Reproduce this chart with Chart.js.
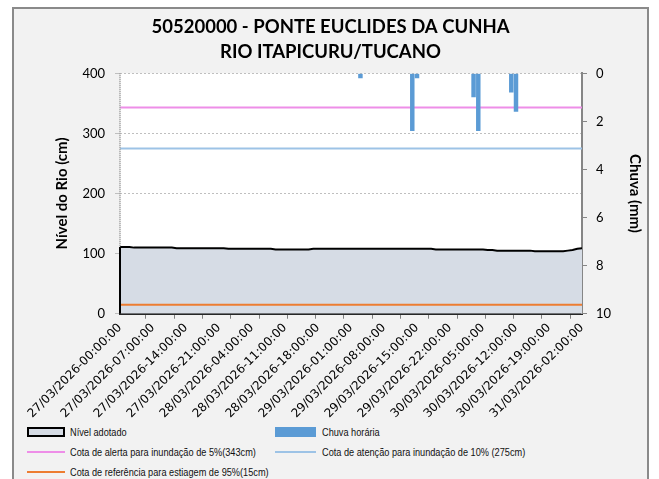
<!DOCTYPE html>
<html>
<head>
<meta charset="utf-8">
<script src="https://cdn.jsdelivr.net/npm/chart.js@4/dist/chart.umd.min.js"></script>
<style>
  body { margin: 0; background: #fff; }
  #frame { position: absolute; left: 12px; top: 7px; width: 633px; height: 480px;
           border: 2px solid #8a8a8a; background: #f2f2f2; overflow: hidden; }
  #frame canvas { position: absolute; left: 0; top: 0; }
  .leg { position: absolute; font: 11px "Liberation Sans", Arial, sans-serif;
         color: #111; line-height: 14px; white-space: nowrap;
         transform: scaleX(0.835); transform-origin: 0 0; }
  .sym { position: absolute; box-sizing: border-box; }
</style>
</head>
<body>
<div id="frame">
  <canvas id="grafico" width="633" height="415"></canvas>

  <div class="sym" style="left:13px;top:418px;width:38px;height:10px;background:#d6dce5;border:2px solid #000"></div>
  <div class="leg" style="left:56px;top:416px">Nível adotado</div>
  <div class="sym" style="left:261px;top:418px;width:41px;height:10px;background:#5b9bd5"></div>
  <div class="leg" style="left:308px;top:416px">Chuva horária</div>

  <div class="sym" style="left:13px;top:442px;width:38px;height:2px;background:#ee8ee8"></div>
  <div class="leg" style="left:56px;top:436px">Cota de alerta para inundação de 5%(343cm)</div>
  <div class="sym" style="left:261px;top:442px;width:41px;height:2px;background:#9dc3e6"></div>
  <div class="leg" style="left:308px;top:436px">Cota de atenção para inundação de 10% (275cm)</div>

  <div class="sym" style="left:13px;top:462px;width:38px;height:2px;background:#ed7d31"></div>
  <div class="leg" style="left:56px;top:456px">Cota de referência para estiagem de 95%(15cm)</div>
</div>

<script>
// horas de 27/03/2026 00:00 ate 31/03/2026 02:00
const horas = [];
for (let h = 0; h <= 98; h++) {
  const dia = 27 + Math.floor(h / 24);
  const hh = String(h % 24).padStart(2, '0');
  horas.push(dia + '/03/2026-' + hh + ':00:00');
}

const rotulos = [
  '27/03/2026-00:00:00', '27/03/2026-07:00:00', '27/03/2026-14:00:00', '27/03/2026-21:00:00',
  '28/03/2026-04:00:00', '28/03/2026-11:00:00', '28/03/2026-18:00:00', '29/03/2026-01:00:00',
  '29/03/2026-08:00:00', '29/03/2026-15:00:00', '29/03/2026-22:00:00', '30/03/2026-05:00:00',
  '30/03/2026-12:00:00', '30/03/2026-19:00:00', '31/03/2026-02:00:00'
];

// nivel do rio (cm), por hora
const nivel = [
  111, 111, 111, 110, 110, 110, 110, 110, 110, 110,
  110, 110, 109, 109, 109, 109, 109, 109, 109, 109,
  109, 109, 109, 108, 108, 108, 108, 108, 108, 108,
  108, 108, 108, 107, 107, 107, 107, 107, 107, 107,
  107, 108, 108, 108, 108, 108, 108, 108, 108, 108,
  108, 108, 108, 108, 108, 108, 108, 108, 108, 108,
  108, 108, 108, 108, 108, 108, 108, 107, 107, 107,
  107, 107, 107, 107, 107, 107, 107, 107, 106, 106,
  105, 105, 105, 105, 105, 105, 105, 105, 104, 104,
  104, 104, 104, 104, 104, 105, 106, 108, 109
];

// chuva horaria (mm)
const chuva = [
  0, 0, 0, 0, 0, 0, 0, 0, 0, 0,
  0, 0, 0, 0, 0, 0, 0, 0, 0, 0,
  0, 0, 0, 0, 0, 0, 0, 0, 0, 0,
  0, 0, 0, 0, 0, 0, 0, 0, 0, 0,
  0, 0, 0, 0, 0, 0, 0, 0, 0, 0,
  0, 0.2, 0, 0, 0, 0, 0, 0, 0, 0,
  0, 0, 2.4, 0.2, 0, 0, 0, 0, 0, 0,
  0, 0, 0, 0, 0, 1.0, 2.4, 0, 0, 0,
  0, 0, 0, 0.8, 1.6, 0, 0, 0, 0, 0,
  0, 0, 0, 0, 0, 0, 0, 0, 0
];

const cotaAlerta = 343;
const cotaAtencao = 275;
const cotaEstiagem = 15;

const primeira = horas[0];
const ultima = horas[horas.length - 1];

// fundo branco da area do grafico, eixo esquerdo pontilhado e borda do nivel
const moldura = {
  id: 'moldura',
  beforeDraw(chart) {
    const { ctx, chartArea: a } = chart;
    ctx.save();
    ctx.fillStyle = '#fff';
    ctx.fillRect(a.left, a.top, a.right - a.left, a.bottom - a.top);
    ctx.restore();
  },
  afterDatasetsDraw(chart) {
    const { ctx, chartArea: a } = chart;
    ctx.save();
    ctx.strokeStyle = '#a6a6a6';
    ctx.lineWidth = 2;
    ctx.setLineDash([1, 1]);
    ctx.beginPath();
    ctx.moveTo(a.left, a.top);
    ctx.lineTo(a.left, a.bottom);
    ctx.stroke();
    const meta = chart.getDatasetMeta(4);
    const p0 = meta.data[0];
    const base = chart.scales.y.getPixelForValue(0);
    ctx.setLineDash([]);
    ctx.strokeStyle = '#000';
    ctx.beginPath();
    ctx.moveTo(p0.x, p0.y);
    ctx.lineTo(p0.x, base);
    ctx.stroke();
    ctx.restore();
  }
};

const ctx = document.getElementById('grafico').getContext('2d');

new Chart(ctx, {
  data: {
    labels: horas,
    datasets: [
      {
        type: 'bar',
        label: 'Chuva horária',
        data: chuva,
        yAxisID: 'y1',
        backgroundColor: '#5b9bd5',
        barPercentage: 0.95,
        categoryPercentage: 1,
        order: 1
      },
      {
        type: 'line',
        label: 'Cota de alerta para inundação de 5%(343cm)',
        data: [{ x: primeira, y: cotaAlerta }, { x: ultima, y: cotaAlerta }],
        yAxisID: 'y',
        borderColor: '#ee8ee8',
        borderWidth: 2,
        pointRadius: 0,
        order: 2
      },
      {
        type: 'line',
        label: 'Cota de atenção para inundação de 10% (275cm)',
        data: [{ x: primeira, y: cotaAtencao }, { x: ultima, y: cotaAtencao }],
        yAxisID: 'y',
        borderColor: '#9dc3e6',
        borderWidth: 2,
        pointRadius: 0,
        order: 3
      },
      {
        type: 'line',
        label: 'Cota de referência para estiagem de 95%(15cm)',
        data: [{ x: primeira, y: cotaEstiagem }, { x: ultima, y: cotaEstiagem }],
        yAxisID: 'y',
        borderColor: '#ed7d31',
        borderWidth: 2,
        pointRadius: 0,
        order: 4
      },
      {
        type: 'line',
        label: 'Nível adotado',
        data: nivel,
        yAxisID: 'y',
        fill: 'origin',
        backgroundColor: '#d6dce5',
        borderColor: '#000',
        borderWidth: 2,
        pointRadius: 0,
        tension: 0,
        order: 5
      }
    ]
  },
  options: {
    responsive: false,
    animation: false,
    layout: { padding: { top: 0, left: 0, right: 0, bottom: 1 } },
    plugins: {
      legend: { display: false },
      tooltip: { enabled: false },
      title: {
        display: true,
        text: ['50520000 - PONTE EUCLIDES DA CUNHA', 'RIO ITAPICURU/TUCANO'],
        color: '#000',
        font: { family: 'Lato', size: 18.5, weight: 'bold', lineHeight: 1.36 },
        padding: { top: 5, bottom: 9 }
      }
    },
    scales: {
      x: {
        type: 'category',
        offset: false,
        afterFit: s => { s.paddingLeft = 0; s.paddingRight = 0; },
        grid: {
          drawOnChartArea: false,
          tickLength: 5,
          color: c => (c.index % 6 === 0 ? '#7f7f7f' : 'rgba(0,0,0,0)')
        },
        border: { color: '#262626', width: 2 },
        ticks: {
          autoSkip: false,
          minRotation: 45,
          maxRotation: 45,
          padding: 2,
          color: '#000',
          font: { family: 'DejaVu Sans', size: 12 },
          callback: (v, i) => (rotulos.includes(horas[i]) ? horas[i] : '')
        }
      },
      y: {
        position: 'left',
        min: 0,
        max: 400,
        afterFit: s => { s.width = 106; },
        ticks: { stepSize: 100, padding: 10, color: '#000', font: { family: 'Lato', size: 13 } },
        grid: { color: '#bfbfbf', tickLength: 5 },
        border: { display: false, dash: [2, 2] },
        title: {
          display: true,
          text: 'Nível do Rio (cm)',
          color: '#000',
          font: { family: 'Lato', size: 15, weight: 'bold' },
          padding: { top: 39, bottom: 12 }
        }
      },
      y1: {
        position: 'right',
        reverse: true,
        min: 0,
        max: 10,
        afterFit: s => { s.width = 65; },
        ticks: { stepSize: 2, padding: 9, color: '#000', font: { family: 'Lato', size: 13 } },
        grid: { drawOnChartArea: false, color: '#868686', tickLength: 5 },
        border: { color: '#868686', width: 2 },
        title: {
          display: true,
          text: 'Chuva (mm)',
          color: '#000',
          font: { family: 'Lato', size: 15, weight: 'bold' },
          padding: { top: 3, bottom: 15 }
        }
      }
    }
  },
  plugins: [moldura]
});
</script>
</body>
</html>
